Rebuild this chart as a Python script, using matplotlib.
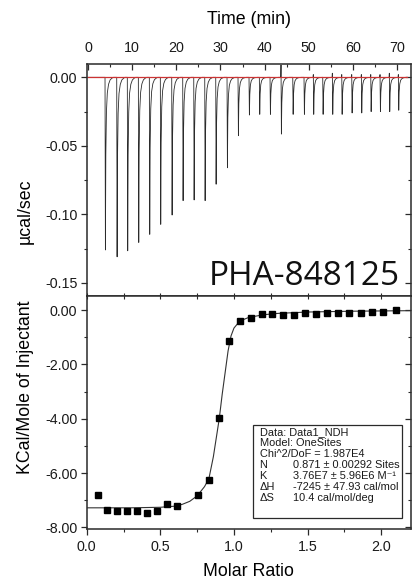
import matplotlib
matplotlib.use("Agg")
import matplotlib.pyplot as plt
from matplotlib.ticker import MultipleLocator, FormatStrFormatter
from matplotlib.patches import Rectangle

plt.rcParams['font.family'] = ['Liberation Sans', 'DejaVu Sans']
plt.rcParams['axes.unicode_minus'] = False

# ---- raw thermogram: injection times (min) and peak depths (µcal/sec)
inj_time = [3.85, 6.50, 8.90, 11.40, 13.89, 16.38, 18.96, 21.45, 23.95, 26.44,
            28.93, 31.49, 33.98, 36.47, 38.81, 41.23, 43.72, 46.38, 48.93, 51.04,
            53.17, 55.35, 57.48, 59.74, 61.92, 64.05, 66.15, 68.26, 70.30]
inj_depth = [-0.126, -0.131, -0.1266, -0.1205, -0.1146, -0.1073, -0.1005, -0.090,
             -0.0895, -0.090, -0.078, -0.066, -0.0426, -0.0275, -0.027, -0.027,
             -0.0414, -0.027, -0.027, -0.027, -0.027, -0.027, -0.027, -0.026,
             -0.026, -0.025, -0.025, -0.025, -0.024]
inj_up = [0, 0, 0, 0, 0, 0, 0, 0, 0, 0, 0, 0, 0, 0, 0, 0,
          0.009, 0, 0, 0.002, 0, 0.003, 0.002, 0.002, 0.002, 0.002, 0.002, 0.003, 0.002]
trace_start, trace_end = 0.0, 72.3

# ---- integrated heats
molar_ratio = [0.077, 0.14, 0.206, 0.274, 0.342, 0.41, 0.478, 0.546, 0.614, 0.757,
               0.83, 0.90, 0.968, 1.04, 1.116, 1.188, 1.26, 1.335, 1.408, 1.48,
               1.558, 1.633, 1.707, 1.782, 1.86, 1.934, 2.015, 2.097]
heat = [-6.79, -7.37, -7.40, -7.38, -7.39, -7.46, -7.39, -7.13, -7.21, -6.80,
        -6.25, -3.99, -1.15, -0.40, -0.28, -0.15, -0.16, -0.18, -0.18, -0.09,
        -0.16, -0.10, -0.11, -0.11, -0.09, -0.08, -0.08, -0.01]

# ---- fitted curve
fit_x = [0.0, 0.3, 0.5, 0.6, 0.65, 0.7, 0.75, 0.8, 0.83, 0.86, 0.88, 0.90, 0.92,
         0.94, 0.96, 0.98, 1.00, 1.04, 1.1, 1.2, 1.3, 1.5, 1.8, 2.2]
fit_y = [-7.28, -7.28, -7.26, -7.22, -7.15, -7.04, -6.84, -6.5, -6.2, -5.4, -4.7,
         -4.0, -3.1, -2.3, -1.5, -0.95, -0.66, -0.40, -0.27, -0.17, -0.12, -0.07,
         -0.04, -0.02]

fit_header = ["Data: Data1_NDH", "Model: OneSites", "Chi^2/DoF = 1.987E4"]
fit_text_labels = ["N", "K", "ΔH", "ΔS"]
fit_text_values = ["0.871 ± 0.00292 Sites", "3.76E7 ± 5.96E6 M⁻¹",
                   "-7245 ± 47.93 cal/mol", "10.4 cal/mol/deg"]

W, H = 420, 583
fig = plt.figure(figsize=(W / 100, H / 100), dpi=100)

def fx(px):
    return px / W

def fy(py):
    return 1 - py / H

L, R = 86.7, 410.7
T1, MID, B2 = 63.5, 296.0, 529.0
ax1 = fig.add_axes([fx(L), fy(MID), (R - L) / W, (MID - T1) / H])
ax2 = fig.add_axes([fx(L), fy(B2), (R - L) / W, (B2 - MID) / H])

spine_c = '#2a2a2a'
tick_fs = 10.3

# spike template (shape only)
tpl_dt = [-0.05, 0.0, 0.09, 0.18, 0.32, 0.52, 0.80, 1.15, 1.6, 1.9]
tpl_fr = [0.0, None, 1.0, 0.45, 0.20, 0.09, 0.04, 0.015, 0.004, 0.0]

xs, ys = [trace_start], [0.0]
for t, d, u in zip(inj_time, inj_depth, inj_up):
    for dt, fr in zip(tpl_dt, tpl_fr):
        xs.append(t + dt)
        ys.append(u if fr is None else fr * d)
xs.append(trace_end)
ys.append(0.0)
ax1.plot(xs, ys, color='#2b2b2b', lw=0.6, zorder=2)
ax1.plot([trace_start, trace_end], [0, 0], color='#cc3333', lw=0.9, zorder=3)

ax1.set_xlim(-0.3, 73.1)
ax1.set_ylim(-0.1596, 0.0101)
ax1.xaxis.tick_top()
ax1.xaxis.set_major_locator(MultipleLocator(10))
ax1.xaxis.set_minor_locator(MultipleLocator(5))
ax1.xaxis.set_major_formatter(FormatStrFormatter('%d'))
ax1.tick_params(axis='x', which='both', direction='in', top=True, bottom=False,
                labeltop=True, labelbottom=False, labelsize=tick_fs, pad=6.0,
                color=spine_c)
ax1.tick_params(axis='x', which='major', length=4.5, width=0.9)
ax1.tick_params(axis='x', which='minor', length=2.5, width=0.8)
ax1.yaxis.set_major_locator(MultipleLocator(0.05))
ax1.yaxis.set_minor_locator(MultipleLocator(0.025))
ax1.yaxis.set_major_formatter(FormatStrFormatter('%.2f'))
ax1.tick_params(axis='y', which='both', direction='out', left=True, right=False,
                labelsize=tick_fs, pad=2.5, color=spine_c)
ax1.tick_params(axis='y', which='major', length=4.2, width=0.9)
ax1.tick_params(axis='y', which='minor', length=2.5, width=0.8)
r1 = ax1.secondary_yaxis('right')
r1.yaxis.set_major_locator(MultipleLocator(0.05))
r1.yaxis.set_minor_locator(MultipleLocator(0.025))
r1.tick_params(which='both', direction='in', labelright=False, color=spine_c)
r1.tick_params(which='major', length=4.2, width=0.9)
r1.tick_params(which='minor', length=2.5, width=0.8)
r1.spines['right'].set_visible(False)

# bottom panel
ax2.plot(fit_x, fit_y, color='#333333', lw=0.8, zorder=2)
ax2.plot(molar_ratio, heat, linestyle='none', marker='s', ms=5.0, color='black', zorder=3)
ax2.set_xlim(0.0, 2.2)
ax2.set_ylim(-8.06, 0.52)
ax2.xaxis.set_major_locator(MultipleLocator(0.5))
ax2.xaxis.set_minor_locator(MultipleLocator(0.25))
ax2.xaxis.set_major_formatter(FormatStrFormatter('%.1f'))
ax2.yaxis.set_major_locator(MultipleLocator(2))
ax2.yaxis.set_minor_locator(MultipleLocator(1))
ax2.yaxis.set_major_formatter(FormatStrFormatter('%.2f'))
ax2.tick_params(axis='x', which='both', direction='out', labelsize=tick_fs, pad=3.8,
                color=spine_c)
ax2.tick_params(axis='y', which='both', direction='out', labelsize=tick_fs, pad=2.5,
                color=spine_c)
ax2.tick_params(which='major', length=4.2, width=0.9)
ax2.tick_params(which='minor', length=2.5, width=0.8)
t2 = ax2.secondary_xaxis('top')
t2.xaxis.set_major_locator(MultipleLocator(0.5))
t2.xaxis.set_minor_locator(MultipleLocator(0.25))
t2.tick_params(which='both', direction='inout', labeltop=False, length=5, width=0.8,
               color=spine_c)
t2.spines['top'].set_visible(False)
r2 = ax2.secondary_yaxis('right')
r2.yaxis.set_major_locator(MultipleLocator(2))
r2.yaxis.set_minor_locator(MultipleLocator(1))
r2.tick_params(which='both', direction='in', labelright=False, color=spine_c)
r2.tick_params(which='major', length=4.2, width=0.9)
r2.tick_params(which='minor', length=2.5, width=0.8)
r2.spines['right'].set_visible(False)

for ax in (ax1, ax2):
    for s in ax.spines.values():
        s.set_color(spine_c)
        s.set_linewidth(1.1)
    for lab in ax.get_xticklabels() + ax.get_yticklabels():
        lab.set_color('#1a1a1a')

# axis labels
lab_fs = 12.8
fig.text(fx(248.7), fy(20), "Time (min)", ha='center', va='center', fontsize=lab_fs)
fig.text(fx(248.7), fy(572), "Molar Ratio", ha='center', va='center', fontsize=lab_fs)
fig.text(fx(25), fy(211), "µcal/sec", ha='center', va='center', rotation=90, fontsize=lab_fs)
fig.text(fx(26), fy(387), "KCal/Mole of Injectant", ha='center', va='center',
         rotation=90, fontsize=lab_fs)

# compound name
fig.text(fx(209.0), fy(285), "PHA-848125", ha='left', va='baseline', fontsize=24,
         family=['Open Sans', 'DejaVu Sans'], color='#111111')

# fit parameter box
box = Rectangle((fx(253.3), fy(518)), (401.7 - 253.3) / W, (518 - 424.7) / H,
                transform=fig.transFigure, facecolor='white', edgecolor=spine_c,
                lw=0.9, zorder=5)
fig.add_artist(box)
baselines = [435.3, 446.0, 457.0, 468.0, 479.0, 490.0, 500.7]
box_fs = 7.9
for i, line in enumerate(fit_header):
    fig.text(fx(259.5), fy(baselines[i]), line, ha='left', va='baseline',
             fontsize=box_fs, zorder=6, color='#1a1a1a')
for j, (k, v) in enumerate(zip(fit_text_labels, fit_text_values)):
    yb = fy(baselines[3 + j])
    fig.text(fx(259.5), yb, k, ha='left', va='baseline', fontsize=box_fs, zorder=6,
             color='#1a1a1a')
    fig.text(fx(293.3), yb, v, ha='left', va='baseline', fontsize=box_fs, zorder=6,
             color='#1a1a1a')

fig.savefig("out.png", dpi=100)
